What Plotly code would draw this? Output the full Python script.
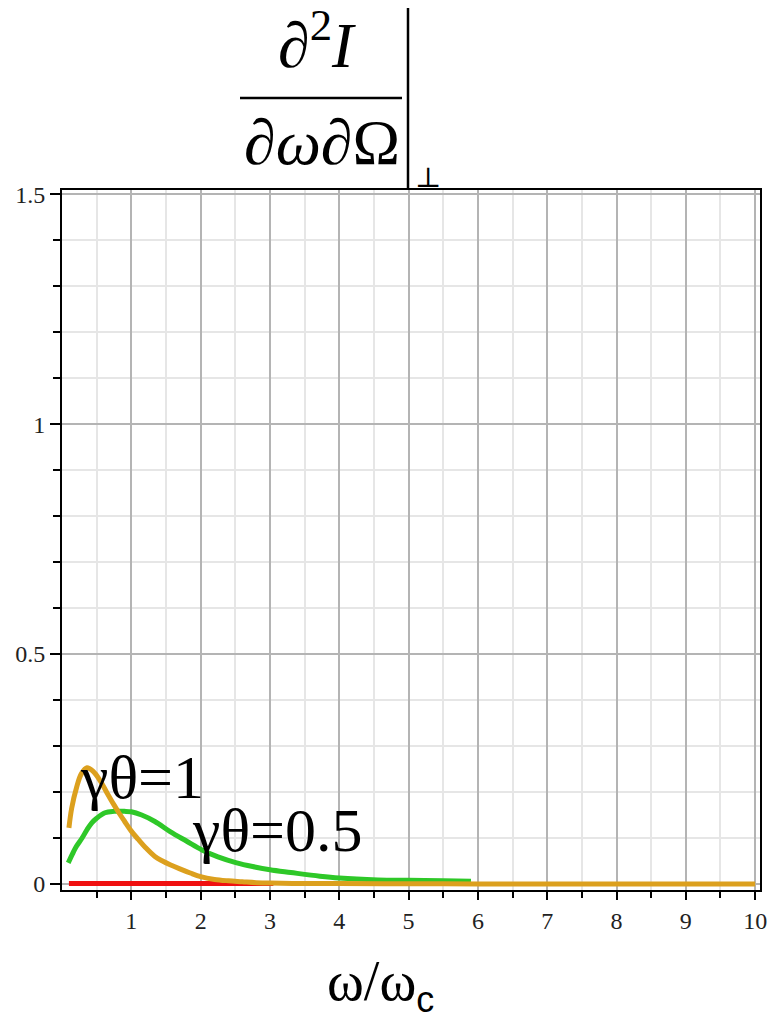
import plotly.graph_objects as go

# Spectral intensity (perpendicular polarisation) vs. omega/omega_c
x_gt1 = [0.1, 0.14, 0.21, 0.28, 0.36, 0.45, 0.55, 0.65, 0.75, 0.82, 0.9, 1.0, 1.1, 1.2,
         1.34, 1.45, 1.56, 1.7, 1.85, 2.0, 2.2, 2.4, 2.6, 2.8, 3.0, 3.5, 4.0, 5.0, 6.0,
         7.0, 8.0, 9.0, 10.0]
y_gt1 = [0.122, 0.165, 0.21, 0.24, 0.253, 0.245, 0.225, 0.198, 0.172, 0.155, 0.137, 0.115,
         0.097, 0.08, 0.06, 0.05, 0.042, 0.033, 0.024, 0.016, 0.01, 0.007, 0.005, 0.003,
         0.002, 0.001, 0.001, 0.0005, 0.0003, 0.0002, 0.0001, 0.0001, 0.0001]

x_gt05 = [0.09, 0.15, 0.2, 0.29, 0.36, 0.43, 0.5, 0.62, 0.75, 0.9, 1.0, 1.15, 1.34, 1.56,
          1.8, 2.02, 2.25, 2.52, 2.75, 3.0, 3.3, 3.72, 4.0, 4.56, 5.0, 5.5, 5.9]
y_gt05 = [0.046, 0.065, 0.08, 0.1, 0.118, 0.133, 0.143, 0.155, 0.158, 0.158, 0.157, 0.15,
          0.136, 0.114, 0.093, 0.074, 0.059, 0.046, 0.038, 0.031, 0.025, 0.017, 0.013,
          0.009, 0.008, 0.007, 0.006]

x_gt0 = [0.1, 0.5, 1.0, 1.5, 2.0, 2.5, 3.05]
y_gt0 = [0.001, 0.001, 0.001, 0.001, 0.001, 0.001, 0.001]

x_ticks = [1, 2, 3, 4, 5, 6, 7, 8, 9, 10]
x_minor = [0.5, 1.5, 2.5, 3.5, 4.5, 5.5, 6.5, 7.5, 8.5, 9.5]
y_ticks = [0, 0.5, 1, 1.5]
y_tick_text = ["0", "0.5", "1", "1.5"]

W, H = 774, 1028
L, R, T, B = 62, 14, 190, 138
PW, PH = W - L - R, H - T - B


def px(xp):
    return (xp - L) / PW


def py(yp):
    return (H - B - yp) / PH


fig = go.Figure()
fig.add_trace(go.Scatter(x=x_gt0, y=y_gt0, mode="lines",
                         line=dict(color="rgb(240,16,16)", width=5), hoverinfo="skip"))
fig.add_trace(go.Scatter(x=x_gt05, y=y_gt05, mode="lines", line_shape="spline",
                         line=dict(color="rgb(46,200,40)", width=5), hoverinfo="skip"))
fig.add_trace(go.Scatter(x=x_gt1, y=y_gt1, mode="lines", line_shape="spline",
                         line=dict(color="rgb(220,160,30)", width=5), hoverinfo="skip"))

serif = "Liberation Serif, Times New Roman, serif"
tickfont = dict(family=serif, size=24, color="#222")

fig.update_xaxes(
    range=[0, 10.07], tickmode="array", tickvals=x_ticks, ticktext=[str(v) for v in x_ticks],
    showgrid=True, gridcolor="#b4b4b4", gridwidth=2, zeroline=False,
    showline=True, linecolor="black", linewidth=2, mirror=True,
    ticks="outside", ticklen=8, tickwidth=2, tickcolor="black", tickfont=tickfont,
    minor=dict(tickmode="array", tickvals=x_minor, showgrid=True, gridcolor="#e6e6e6",
               gridwidth=2, ticks="outside", ticklen=6, tickwidth=2, tickcolor="black"),
)
fig.update_yaxes(
    range=[-0.013, 1.509], tickmode="array", tickvals=y_ticks, ticktext=y_tick_text,
    showgrid=True, gridcolor="#b4b4b4", gridwidth=2, zeroline=False,
    showline=True, linecolor="black", linewidth=2, mirror=True,
    ticks="outside", ticklen=10, tickwidth=2, tickcolor="black", tickfont=tickfont,
    minor=dict(dtick=0.1, tick0=0, showgrid=True, gridcolor="#e6e6e6",
               gridwidth=2, ticks="outside", ticklen=7, tickwidth=2, tickcolor="black"),
)

annotations = [
    # fraction numerator / denominator
    dict(x=px(317), y=py(40), text="<i>∂</i><sup>2</sup><i>I</i>",
         font=dict(family=serif, size=64, color="black")),
    dict(x=px(322), y=py(143), text="<i>∂ω∂</i>Ω",
         font=dict(family=serif, size=64, color="black")),
    dict(x=px(428), y=py(177), text="⊥",
         font=dict(family="DejaVu Serif", size=28, color="black")),
    # curve labels
    dict(x=0.23, y=0.232, xref="x", yref="y", xanchor="left", text="γθ=1",
         font=dict(family=serif, size=62, color="black")),
    dict(x=1.84, y=0.117, xref="x", yref="y", xanchor="left", text="γθ=0.5",
         font=dict(family=serif, size=62, color="black")),
    # horizontal axis title
    dict(x=px(380), y=py(985),
         text="ω/ω<sub><span style=\"font-family:Liberation Sans, Arial, sans-serif;"
              "font-size:36px\">c</span></sub>",
         font=dict(family=serif, size=56, color="black")),
]
for a in annotations:
    a.setdefault("xref", "paper")
    a.setdefault("yref", "paper")
    a.setdefault("showarrow", False)
    a.setdefault("xanchor", "center")
    a.setdefault("yanchor", "middle")

shapes = [
    dict(type="line", xref="paper", yref="paper", x0=px(240), x1=px(402), y0=py(98), y1=py(98),
         line=dict(color="black", width=2.5)),
    dict(type="line", xref="paper", yref="paper", x0=px(408), x1=px(408), y0=py(8), y1=py(188),
         line=dict(color="black", width=2.5)),
]

fig.update_layout(
    width=W, height=H, margin=dict(l=L, r=R, t=T, b=B, autoexpand=False),
    paper_bgcolor="white", plot_bgcolor="white", showlegend=False,
    annotations=annotations, shapes=shapes,
)

fig.write_html("out.html")
